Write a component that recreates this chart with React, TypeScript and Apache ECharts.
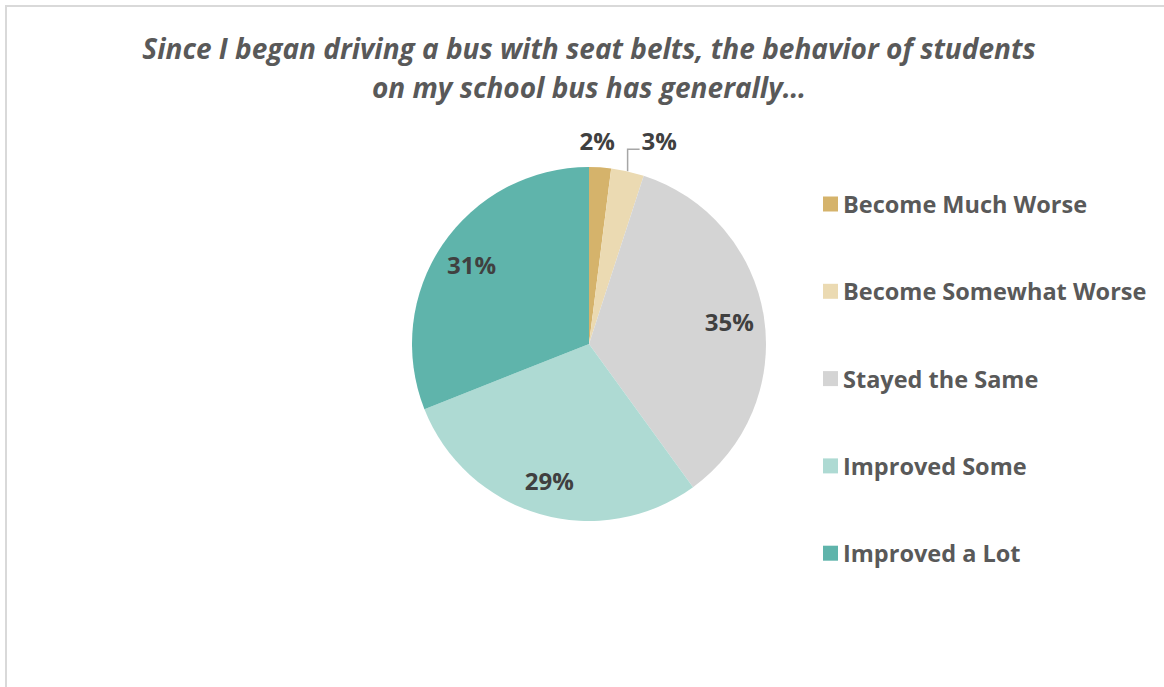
import React, { useEffect, useRef } from "react";
import * as echarts from "echarts";

const titleLines = [
  "Since I began driving a bus with seat belts, the behavior of students",
  "on my school bus has generally…",
];
const categories = [
  "Become Much Worse",
  "Become Somewhat Worse",
  "Stayed the Same",
  "Improved Some",
  "Improved a Lot",
];
const values = [2, 3, 35, 29, 31];
const colors = ["#d5b36b", "#ebdab2", "#d4d4d4", "#aedad3", "#5fb4ab"];
const outsideLabelIdx = [0, 1];

const FONT = "'Open Sans', sans-serif";

export default function App() {
  const ref = useRef<HTMLDivElement>(null);
  useEffect(() => {
    if (!ref.current) return;
    const chart = echarts.init(ref.current, undefined, { renderer: "svg" });
    const center = [589, 344];
    const R = 177;
    const mainData = categories.map((name, i) => ({
      name,
      value: values[i],
      itemStyle: { color: colors[i] },
      label: { show: outsideLabelIdx.includes(i) },
      labelLine: { show: i === 1 },
    }));
    const overlayData = categories.map((name, i) => ({
      name,
      value: values[i],
      itemStyle: { color: "rgba(0,0,0,0)" },
      label: { show: !outsideLabelIdx.includes(i) },
    }));
    chart.setOption({
      animation: false,
      backgroundColor: "#ffffff",
      title: {
        text: titleLines.join("\n"),
        left: 584,
        textAlign: "center",
        top: 23,
        textStyle: {
          fontFamily: FONT,
          fontSize: 28,
          fontWeight: "bold",
          fontStyle: "italic",
          color: "#595959",
          lineHeight: 39,
        },
      },
      legend: {
        orient: "vertical",
        left: 818,
        top: 187,
        icon: "rect",
        itemWidth: 15,
        itemHeight: 15,
        itemGap: 63.3,
        data: categories,
        selectedMode: false,
        textStyle: {
          fontFamily: FONT,
          fontSize: 23.5,
          fontWeight: "bold",
          color: "#595959",
          lineHeight: 22,
        },
      },
      graphic: [
        {
          type: "rect",
          shape: { x: 6, y: 6, width: 1300, height: 800 },
          style: { fill: "none", stroke: "#d9d9d9", lineWidth: 2 },
          silent: true,
        },
      ],
      series: [
        {
          type: "pie",
          center,
          radius: [0, R],
          startAngle: 90,
          clockwise: true,
          avoidLabelOverlap: false,
          data: mainData,
          label: {
            position: "outside",
            formatter: (p: any) => `${p.value}%`,
            fontFamily: FONT,
            fontSize: 24,
            fontWeight: "bold",
            color: "#404040",
          },
          labelLine: {
            length: 10,
            length2: 10,
            lineStyle: { color: "#a6a6a6", width: 1.5 },
          },
          labelLayout: (params: any) => {
            const pts = params.labelLinePoints;
            if (!pts) return {};
            const x0 = pts[0][0];
            const y0 = pts[0][1];
            if (params.dataIndex === 0) {
              return { x: x0 - 3, y: y0 - 27, align: "center", verticalAlign: "middle" };
            }
            if (params.dataIndex === 1) {
              return {
                x: x0 + 14,
                y: y0 - 31,
                align: "left",
                verticalAlign: "middle",
                labelLinePoints: [
                  [x0, y0],
                  [x0, y0 - 22],
                  [x0 + 12, y0 - 22],
                ],
              };
            }
            return {};
          },
          emphasis: { disabled: true },
        },
        {
          type: "pie",
          center,
          radius: [101, R],
          startAngle: 90,
          clockwise: true,
          silent: true,
          data: overlayData,
          label: {
            position: "inside",
            formatter: (p: any) => `${p.value}%`,
            fontFamily: FONT,
            fontSize: 24,
            fontWeight: "bold",
            color: "#404040",
          },
          labelLine: { show: false },
          emphasis: { disabled: true },
        },
      ],
    });
    return () => chart.dispose();
  }, []);
  return (
    <div
      ref={ref}
      style={{ position: "fixed", left: 0, top: 0, width: 1164, height: 687 }}
    />
  );
}
